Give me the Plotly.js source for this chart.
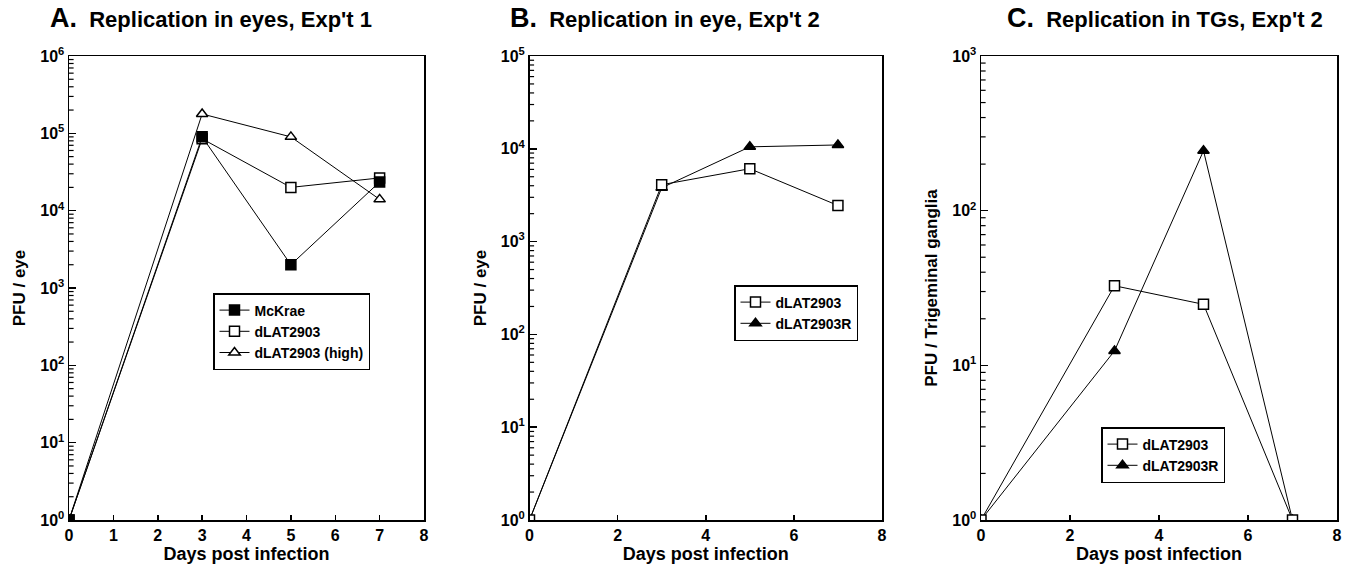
<!DOCTYPE html>
<html><head><meta charset="utf-8">
<script src="https://cdn.plot.ly/plotly-3.0.1.min.js"></script>
<style>html,body{margin:0;padding:0;background:#fff}#g{width:1347px;height:569px}</style>
</head><body><div id="g"></div>
<script>
// Panel A: Replication in eyes, Exp't 1
const daysA = [0, 3, 5, 7];
const mckraeA = [1, 90000, 2000, 23500];
const dlatA = [1, 85000, 20000, 26500];
const dlatHighA = [1, 178000, 90000, 14000];
// Panel B: Replication in eye, Exp't 2
const daysB = [0, 3, 5, 7];
const dlatB = [1, 4100, 6100, 2450];
const dlatRB = [1, 3800, 10500, 11000];
// Panel C: Replication in TGs, Exp't 2
const daysC = [0, 3, 5, 7];
const dlatC = [1, 32.7, 24.8, 1];
const dlatRC = [1, 12.4, 244, 1];
// Tick labels
const xTicksA = [0,1,2,3,4,5,6,7,8];
const xTicksBC = [0,2,4,6,8];
const yValsA = [1,10,100,1000,10000,100000,1000000];
const yTextA = ['10<sup>0</sup>','10<sup>1</sup>','10<sup>2</sup>','10<sup>3</sup>','10<sup>4</sup>','10<sup>5</sup>','10<sup>6</sup>'];
const yValsB = [1,10,100,1000,10000,100000];
const yTextB = ['10<sup>0</sup>','10<sup>1</sup>','10<sup>2</sup>','10<sup>3</sup>','10<sup>4</sup>','10<sup>5</sup>'];
const yValsC = [1,10,100,1000];
const yTextC = ['10<sup>0</sup>','10<sup>1</sup>','10<sup>2</sup>','10<sup>3</sup>'];
const minorDigits = [2,3,4,5,6,7,8,9];

const F = 'Liberation Sans, Arial, sans-serif';
const W = 1347, H = 569;
const line = {color:'#000', width:1};
function tr(x, y, name, sym, filled, xa, ya, lg, rank){
  return {x:x, y:y, name:name, type:'scatter', mode:'lines+markers', legendrank:rank,
    xaxis:xa, yaxis:ya, legend:lg, line:line,
    marker:{symbol:sym, size:10, color: filled ? '#000' : '#fff', line:{color:'#000', width:1.5}}};
}
const data = [
  tr(daysA, dlatHighA, 'dLAT2903 (high)', 'triangle-up', false, 'x', 'y', 'legend', 3),
  tr(daysA, dlatA, 'dLAT2903', 'square', false, 'x', 'y', 'legend', 2),
  tr(daysA, mckraeA, 'McKrae', 'square', true, 'x', 'y', 'legend', 1),
  tr(daysB, dlatRB, 'dLAT2903R', 'triangle-up', true, 'x2', 'y2', 'legend2', 2),
  tr(daysB, dlatB, 'dLAT2903', 'square', false, 'x2', 'y2', 'legend2', 1),
  tr(daysC, dlatRC, 'dLAT2903R', 'triangle-up', true, 'x3', 'y3', 'legend3', 2),
  tr(daysC, dlatC, 'dLAT2903', 'square', false, 'x3', 'y3', 'legend3', 1)
];

// minor tick marks on the log y axes (drawn as short shapes at the axis)
function minorShapes(xa, ya, vals){
  const out = [];
  vals.slice(0, -1).forEach(v => minorDigits.forEach(d => {
    const yv = v*d;
    out.push({type:'line', xref:xa+' domain', yref:ya, x0:0, x1:0.013, y0:yv, y1:yv,
      line:{color:'#000', width:1.2}, layer:'above'});
  }));
  return out;
}
const tickFont = {family:F, size:16, color:'#000', weight:'bold'};
function xax(x0, x1, ya, ticks){
  return {domain:[x0/W, x1/W], anchor:ya, range:[0,8], tickvals:ticks, ticktext:ticks.map(String),
    ticks:'inside', ticklen:5, tickwidth:1.5, tickcolor:'#000', showgrid:false, zeroline:false,
    showline:true, linecolor:'#000', linewidth:1.5, mirror:true, tickfont:{family:F,size:16,color:'#000',weight:'bold'},
    ticklabelstandoff:0,
    title:{text:'Days post infection', font:{family:F, size:18, color:'#000', weight:'bold'}, standoff:4},
    automargin:false, fixedrange:true};
}
function yax(xa, top, vals, txt, title){
  return {domain:[1-520/H, 1-56/H], anchor:xa, type:'log', range:[0, top], tickvals:vals, ticktext:txt,
    ticks:'inside', ticklen:7, tickwidth:1.5, tickcolor:'#000', showgrid:false, zeroline:false,
    showline:true, linecolor:'#000', linewidth:1.5, mirror:true, tickfont:tickFont, ticklabelstandoff:0,
    title:{text:title, font:{family:F, size:17, color:'#000', weight:'bold'}, standoff:10},
    automargin:false, fixedrange:true};
}
function leg(x0, y0){
  return {x:x0/W, y:1-y0/H, xanchor:'left', yanchor:'top', bgcolor:'#fff', bordercolor:'#000', borderwidth:1.5,
    font:{family:F, size:14, color:'#000', weight:'bold'}, itemwidth:30, tracegroupgap:0, traceorder:'normal'};
}
const layout = {
  width:W, height:H, margin:{l:0,r:0,t:0,b:0}, paper_bgcolor:'#fff', plot_bgcolor:'#fff', showlegend:true,
  xaxis: xax(69, 424, 'y', xTicksA),
  yaxis: yax('x', 6, yValsA, yTextA, 'PFU / eye'),
  xaxis2: xax(529.5, 882, 'y2', xTicksBC),
  yaxis2: yax('x2', 5, yValsB, yTextB, 'PFU / eye'),
  xaxis3: xax(981, 1337, 'y3', xTicksBC),
  yaxis3: yax('x3', 3, yValsC, yTextC, 'PFU / Trigeminal ganglia'),
  shapes: [].concat(minorShapes('x', 'y', yValsA), minorShapes('x2', 'y2', yValsB), minorShapes('x3', 'y3', yValsC)),
  legend: leg(213, 293),
  legend2: leg(734, 285),
  legend3: leg(1101, 427),
  annotations: [
    {xref:'paper', yref:'paper', x:48/W, y:1-18/H, xanchor:'left', yanchor:'middle', showarrow:false,
     text:'<span style="font-size:27px">A.</span>  Replication in eyes, Exp\'t 1', font:{family:F, size:22, color:'#000', weight:'bold'}},
    {xref:'paper', yref:'paper', x:508/W, y:1-18/H, xanchor:'left', yanchor:'middle', showarrow:false,
     text:'<span style="font-size:27px">B.</span>  Replication in eye, Exp\'t 2', font:{family:F, size:22, color:'#000', weight:'bold'}},
    {xref:'paper', yref:'paper', x:1005/W, y:1-18/H, xanchor:'left', yanchor:'middle', showarrow:false,
     text:'<span style="font-size:27px">C.</span>  Replication in TGs, Exp\'t 2', font:{family:F, size:22, color:'#000', weight:'bold'}}
  ]
};
Plotly.newPlot('g', data, layout, {displayModeBar:false, staticPlot:true});
</script></body></html>
